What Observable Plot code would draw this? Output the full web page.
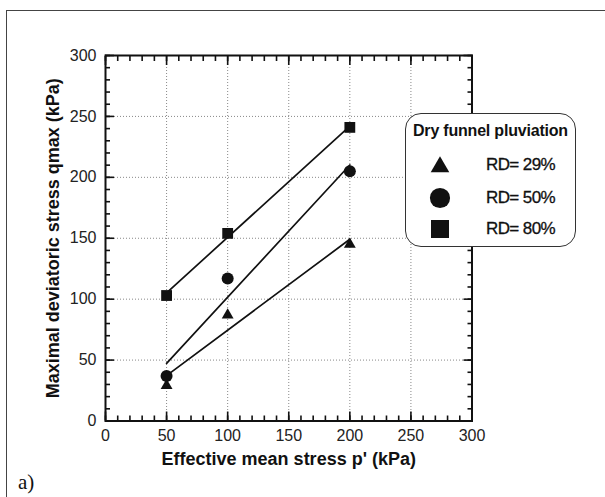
<!DOCTYPE html>
<html>
<head>
<meta charset="utf-8">
<script src="https://cdn.jsdelivr.net/npm/d3@7"></script>
<script src="https://cdn.jsdelivr.net/npm/@observablehq/plot@0.6"></script>
<style>
  html, body { margin: 0; padding: 0; background: #fff; }
  #page {
    position: relative; width: 605px; height: 497px; overflow: hidden;
    background: #fff; font-family: "Liberation Sans", Arial, sans-serif;
  }
  #border {
    position: absolute; left: 6px; top: 10px; width: 700px; height: 600px;
    border: 1.5px solid #444; box-sizing: border-box;
  }
  #chart { position: absolute; left: 0; top: 0; }
  #panel-tag {
    position: absolute; left: 18px; top: 470px;
    font-family: "Liberation Serif", "Times New Roman", serif; font-size: 21px; color: #111;
  }
  #legend {
    position: absolute; left: 405px; top: 113px; width: 171px; height: 134px;
    box-sizing: border-box; border: 1.3px solid #333; border-radius: 16px; background: #fff;
  }
  #legend .title {
    position: absolute; left: 7px; top: 8px; font-weight: bold; font-size: 16px;
    letter-spacing: -0.2px; color: #111; white-space: nowrap;
  }
  #legend .row { position: absolute; left: 0; height: 30px; width: 171px; }
  #legend .row svg { position: absolute; left: 20px; top: 0; }
  #legend .row span {
    position: absolute; left: 80px; top: 5px; font-size: 17px; letter-spacing: -0.6px;
    color: #111; white-space: nowrap; -webkit-text-stroke: 0.3px #111;
  }
</style>
</head>
<body>
<div id="page">
  <div id="border"></div>
  <div id="chart"></div>
  <div id="legend"></div>
  <div id="panel-tag">a)</div>
</div>
<script>
// Effective mean stress p' (kPa) for each test
const pressure = [50, 100, 200];
// Maximal deviatoric stress qmax (kPa) per relative density
const rd29 = [29, 87, 145];
const rd50 = [37, 117, 205];
const rd80 = [103, 154, 241];
const seriesLabels = ["RD= 29%", "RD= 50%", "RD= 80%"];
const seriesSymbols = ["triangle", "circle", "square"];

// Axis ticks
const majorTicks = [0, 50, 100, 150, 200, 250, 300];
const minorTicks = d3.range(0, 301, 10);
const gridTicks = [50, 100, 150, 200, 250];

const xTitle = "Effective mean stress p' (kPa)";
const yTitle = "Maximal deviatoric stress qmax (kPa)";
const legendTitle = "Dry funnel pluviation";

const rows = [];
[rd29, rd50, rd80].forEach((vals, i) => {
  vals.forEach((q, j) => rows.push({p: pressure[j], q, series: seriesLabels[i]}));
});

// Marker radius per symbol (Plot sizes symbols by area)
const markerR = {triangle: 4.4, circle: 6, square: 6.1};

const tickStyle = {stroke: "#111", strokeWidth: 1.6};
const labelStyle = {fill: "#222", fontSize: 16, label: null, tickSize: 0, tickPadding: 9};

const chart = Plot.plot({
  width: 605,
  height: 497,
  marginLeft: 105,
  marginRight: 133.5,
  marginTop: 55,
  marginBottom: 76.5,
  style: {fontFamily: "Liberation Sans, Arial, sans-serif", fontSize: "16px", color: "#222", background: "transparent"},
  x: {domain: [0, 300]},
  y: {domain: [0, 300]},
  symbol: {domain: seriesLabels, range: seriesSymbols},
  marks: [
    Plot.gridX(gridTicks, {stroke: "#888", strokeOpacity: 1, strokeDasharray: "1,2"}),
    Plot.gridY(gridTicks, {stroke: "#888", strokeOpacity: 1, strokeDasharray: "1,2"}),
    // inward minor and major ticks on all four sides
    ...["bottom", "top"].flatMap(a => [
      Plot.axisX(minorTicks, {anchor: a, tickSize: -5, tickFormat: () => "", label: null, ...tickStyle}),
      Plot.axisX(majorTicks, {anchor: a, tickSize: -9, tickFormat: () => "", label: null, ...tickStyle})
    ]),
    ...["left", "right"].flatMap(a => [
      Plot.axisY(minorTicks, {anchor: a, tickSize: -5, tickFormat: () => "", label: null, ...tickStyle}),
      Plot.axisY(majorTicks, {anchor: a, tickSize: -9, tickFormat: () => "", label: null, ...tickStyle})
    ]),
    // tick labels
    Plot.axisX(majorTicks, {anchor: "bottom", ...labelStyle}),
    Plot.axisY(majorTicks, {anchor: "left", ...labelStyle}),
    Plot.frame({stroke: "#111", strokeWidth: 2}),
    // fitted trend per density
    Plot.linearRegressionY(rows, {x: "p", y: "q", z: "series", ci: 0, stroke: "#111", strokeWidth: 1.7}),
    ...seriesLabels.map((s, i) =>
      Plot.dot(rows.filter(d => d.series === s), {
        x: "p", y: "q", symbol: "series", fill: "#111", stroke: "none", r: markerR[seriesSymbols[i]]
      })
    ),
    Plot.text([xTitle], {frameAnchor: "bottom", dy: 38, textAnchor: "middle", lineAnchor: "middle", fontWeight: "bold", fontSize: 18, fill: "#111"}),
    Plot.text([yTitle], {frameAnchor: "left", dx: -52, rotate: -90, textAnchor: "middle", lineAnchor: "middle", fontWeight: "bold", fontSize: 18, fill: "#111"})
  ]
});
document.getElementById("chart").appendChild(chart);

// Legend box
const legend = d3.select("#legend");
legend.append("div").attr("class", "title").text(legendTitle);
const legendSize = {triangle: 150, circle: 320, square: 324};
const legendTops = [36, 69, 100];
seriesLabels.forEach((label, i) => {
  const row = legend.append("div").attr("class", "row").style("top", legendTops[i] + "px");
  const svg = row.append("svg").attr("width", 30).attr("height", 30);
  const sym = seriesSymbols[i];
  const shape = {triangle: d3.symbolTriangle, circle: d3.symbolCircle, square: d3.symbolSquare}[sym];
  svg.append("path")
    .attr("transform", sym === "triangle" ? "translate(14,17)" : "translate(14,15)")
    .attr("d", d3.symbol(shape, legendSize[sym])())
    .attr("fill", "#111");
  row.append("span").text(label);
});
</script>
</body>
</html>
